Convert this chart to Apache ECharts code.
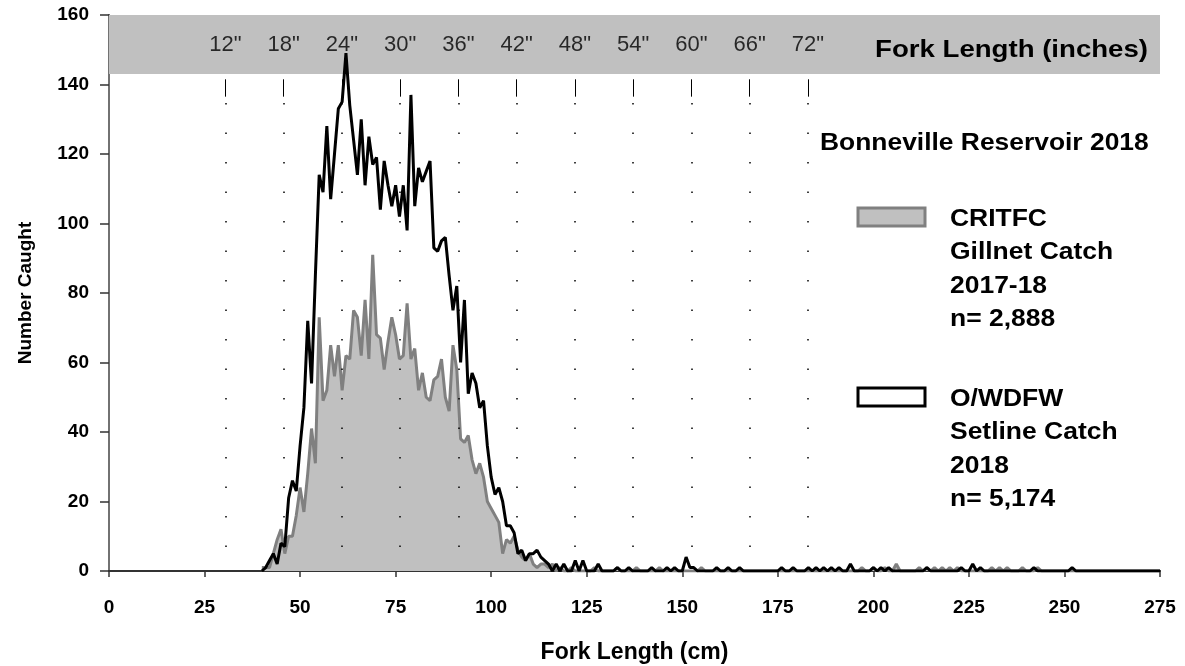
<!DOCTYPE html>
<html><head><meta charset="utf-8">
<script src="https://cdn.jsdelivr.net/npm/echarts@6/dist/echarts.min.js"></script>
<style>html,body{margin:0;padding:0;background:#fff}#c{width:1185px;height:666px}</style>
</head><body><div id="c"></div>
<script>
// Fork length bins (1 cm), first bin in cm
const startCm = 40;
// O/WDFW Setline Catch 2018, counts per cm from 40 cm to 275 cm
const setline = [
  0,1,3,5,2,8,7,21,26,23,
  36,47,72,54,85,114,109,128,107,120,
  133,135,149,134,124,114,130,111,125,117,
  119,104,118,111,105,111,102,111,98,137,
  105,116,112,115,118,93,92,95,96,85,
  75,82,60,78,51,57,54,47,49,36,
  27,22,24,20,13,13,11,5,6,3,
  5,5,6,4,3,2,0,2,0,2,
  0,0,3,0,3,0,0,0,2,0,
  0,0,0,1,0,0,1,0,0,0,
  0,0,1,0,0,0,1,0,1,0,
  0,4,1,1,0,0,0,0,0,1,
  0,0,1,0,0,1,0,0,0,0,
  0,0,0,0,0,0,1,0,0,1,
  0,0,0,1,0,1,0,1,0,1,
  0,1,0,0,2,0,0,0,0,0,
  1,0,1,0,1,0,0,0,0,0,
  0,0,0,0,1,0,0,0,0,0,
  0,0,0,1,0,0,2,0,1,0,
  0,0,0,0,0,0,0,0,0,0,
  0,0,1,0,0,0,0,0,0,0,
  0,0,1,0,0,0,0,0,0,0,
  0,0,0,0,0,0,0,0,0,0,
  0,0,0,0,0,0
];
// CRITFC Gillnet Catch 2017-18, counts per cm from 40 cm to 275 cm
const gillnet = [
  1,1,1,5,9,12,5,10,10,16,
  24,17,28,41,31,73,49,52,65,56,
  65,52,62,61,75,73,62,78,61,91,
  68,67,58,66,73,68,61,62,77,61,
  64,52,57,50,49,55,56,61,50,46,
  65,58,38,37,39,32,28,31,27,20,
  18,16,14,5,9,8,10,6,4,3,
  5,2,1,2,2,1,2,0,1,0,
  0,1,0,0,0,0,0,1,0,0,
  0,0,0,1,0,0,0,0,1,0,
  0,0,0,0,1,0,0,0,0,0,
  0,0,0,0,0,1,0,0,0,0,
  0,0,0,0,0,0,0,0,0,0,
  0,0,0,0,0,0,0,0,0,0,
  0,0,0,0,0,0,0,0,0,0,
  0,0,0,0,0,0,0,1,0,0,
  1,0,0,1,0,0,2,0,0,0,
  0,0,1,0,1,0,1,0,1,0,
  1,0,1,0,0,0,0,0,0,0,
  0,1,0,1,0,1,0,0,0,1,
  0,0,0,1,0,0,0,0,0,0,
  0,0,0,0,0,0,0,0,0,0,
  0,0,0,0,0,0,0,0,0,0,
  0,0,0,0,0,0
];
// Inch reference lines
const inchTicks = [12,18,24,30,36,42,48,54,60,66,72];
const cmPerInch = 2.54;

const toPairs = arr => arr.map((v, i) => [startCm + i, v]);
const inchCm = inchTicks.map(i => i * cmPerInch);

const chart = echarts.init(document.getElementById('c'), null, {renderer: 'canvas'});
const FONT = 'Liberation Sans, Arial, sans-serif';

const option = {
  animation: false,
  backgroundColor: '#ffffff',
  grid: {left: 109, right: 25, top: 15, bottom: 95, containLabel: false, outerBoundsMode: 'none'},
  xAxis: [{
    type: 'value', min: 0, max: 275, interval: 25,
    name: 'Fork Length (cm)', nameLocation: 'middle', nameGap: 70,
    nameTextStyle: {fontFamily: FONT, fontWeight: 'bold', fontSize: 23, color: '#000'},
    axisLine: {show: true, onZero: false, lineStyle: {color: '#333', width: 2}},
    axisTick: {show: true, inside: false, length: 6, lineStyle: {color: '#333', width: 1.5}},
    axisLabel: {fontFamily: FONT, fontWeight: 'bold', fontSize: 19, color: '#000', margin: 27},
    splitLine: {show: false}
  }, {
    type: 'value', min: 0, max: 275, position: 'top',
    axisLine: {show: true, lineStyle: {color: '#333', width: 2}},
    axisTick: {show: false}, axisLabel: {show: false}, splitLine: {show: false}
  }],
  yAxis: [{
    type: 'value', min: 0, max: 160, interval: 20,
    name: 'Number Caught', nameLocation: 'middle', nameGap: 74, nameRotate: 90,
    nameTextStyle: {fontFamily: FONT, fontWeight: 'bold', fontSize: 19, color: '#000'},
    axisLine: {show: true, lineStyle: {color: '#333', width: 2}},
    axisTick: {show: true, inside: false, length: 9, lineStyle: {color: '#333', width: 1.5}},
    axisLabel: {fontFamily: FONT, fontWeight: 'bold', fontSize: 19, color: '#000', margin: 20},
    splitLine: {show: false}
  }, {
    type: 'value', min: 0, max: 160, position: 'right',
    axisLine: {show: true, lineStyle: {color: '#888', width: 1.5}},
    axisTick: {show: false}, axisLabel: {show: false}, splitLine: {show: false}
  }],
  series: [
    {
      name: 'band', type: 'line', data: [[0, 0]], symbol: 'none', silent: true, z: 1,
      lineStyle: {opacity: 0},
      markArea: {silent: true, itemStyle: {color: '#c0c0c0'},
        data: [[{yAxis: 143, xAxis: 0}, {yAxis: 160, xAxis: 275}]]}
    },
    {
      name: 'CRITFC', type: 'line', data: toPairs(gillnet), symbol: 'none', z: 2,
      lineStyle: {color: '#808080', width: 3},
      areaStyle: {color: '#c0c0c0', opacity: 1}
    },
    {
      name: 'inchLines', type: 'line', data: [], symbol: 'none', silent: true, z: 3,
      markLine: {
        silent: true, symbol: 'none', label: {show: false}, animation: false,
        data: inchCm.map(c => [
          {coord: [c, 134.7], lineStyle: {type: [1.5, 28], color: '#000', width: 1.5}},
          {coord: [c, 5]}
        ]).concat(inchCm.map(c => [
          {coord: [c, 141.5], lineStyle: {type: 'solid', color: '#000', width: 1}},
          {coord: [c, 136.5]}
        ]))
      }
    },
    {
      name: 'inchLabels', type: 'scatter', silent: true, z: 5,
      data: inchCm.map((c, k) => ({value: [c, 151.5], inch: inchTicks[k]})),
      symbolSize: 0,
      label: {show: true, position: 'inside', color: '#000', fontFamily: FONT, fontSize: 22,
        formatter: p => p.data.inch + '"'}
    },
    {
      name: 'O/WDFW', type: 'line', data: toPairs(setline), symbol: 'none', z: 4,
      lineStyle: {color: '#000', width: 3}
    }
  ],
  graphic: [
    {type: 'text', x: 1148, y: 38, scaleX: 1.15, z: 10,
     style: {text: 'Fork Length (inches)', fontFamily: FONT, fontWeight: 'bold', fontSize: 24, fill: '#000', align: 'right', verticalAlign: 'top'}},
    {type: 'text', x: 820, y: 131, scaleX: 1.1, z: 10,
     style: {text: 'Bonneville Reservoir 2018', fontFamily: FONT, fontWeight: 'bold', fontSize: 24, fill: '#000', verticalAlign: 'top'}},
    {type: 'rect', shape: {x: 858, y: 208, width: 67, height: 18}, z: 10,
     style: {fill: '#c0c0c0', stroke: '#808080', lineWidth: 3}},
    {type: 'text', x: 950, y: 203, scaleX: 1.15, z: 10,
     style: {text: 'CRITFC\nGillnet Catch\n2017-18\nn= 2,888', fontFamily: FONT, fontWeight: 'bold', fontSize: 23, lineHeight: 33.3, fill: '#000', verticalAlign: 'top'}},
    {type: 'rect', shape: {x: 858, y: 388, width: 67, height: 18}, z: 10,
     style: {fill: '#ffffff', stroke: '#000', lineWidth: 3}},
    {type: 'text', x: 950, y: 383, scaleX: 1.15, z: 10,
     style: {text: 'O/WDFW\nSetline Catch\n2018\nn= 5,174', fontFamily: FONT, fontWeight: 'bold', fontSize: 23, lineHeight: 33.3, fill: '#000', verticalAlign: 'top'}}
  ]
};
chart.setOption(option);
</script>
</body></html>
